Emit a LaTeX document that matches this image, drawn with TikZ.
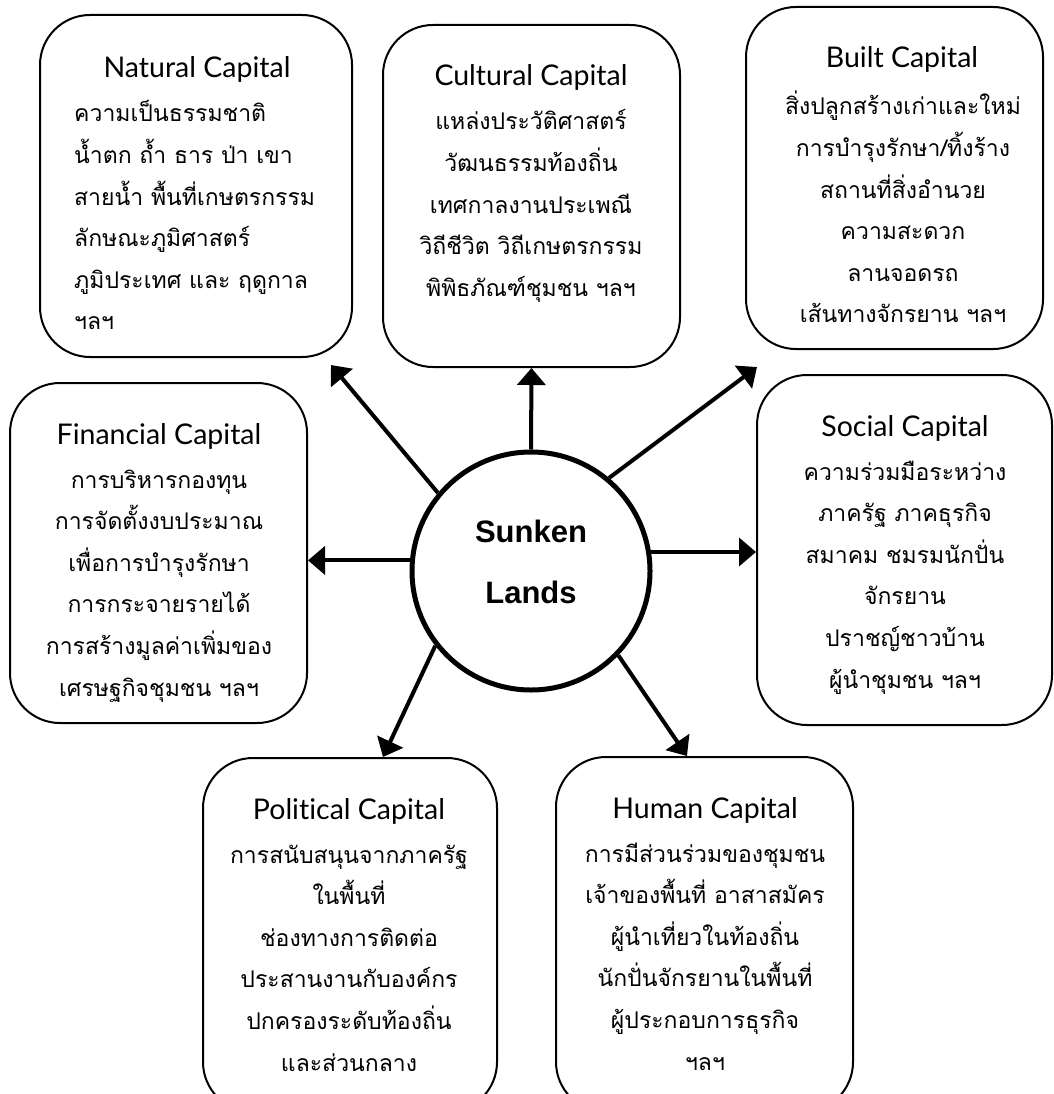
\documentclass[tikz,border=0pt]{standalone}
\usepackage{fontspec}
\usetikzlibrary{arrows.meta}
\newfontfamily\thaifont[Script=Thai]{Loma}
\newfontfamily\titlefont{Lato}[Ligatures=NoCommon]
\newfontfamily\hubfont{Liberation Sans}
\newcommand\bodyfont{\thaifont\fontsize{23}{41.6}\selectfont}
\newcommand\linesC[1]{\vtop{\baselineskip=41.6pt\lineskiplimit=-100pt\halign{\hfil##\hfil\cr #1\crcr}}}
\newcommand\linesL[1]{\vtop{\baselineskip=41.6pt\lineskiplimit=-100pt\halign{##\hfil\cr #1\crcr}}}
\tikzset{
  capbox/.style={draw, line width=2pt, rounded corners=50pt, inner sep=0pt},
  captitle/.style={anchor=base, inner sep=0pt, font=\titlefont\fontsize{28.5}{28.5}\selectfont},
  capbody/.style={anchor=base, inner sep=0pt, font=\bodyfont},
  spoke/.style={line width=4pt, -{Triangle[length=17pt,width=28pt]}},
}
\begin{document}
\begin{tikzpicture}[x=1pt,y=-1pt]
\clip (0,0) rectangle (1053,1094);
\fill[white] (0,0) rectangle (1053,1094);

% boxes
\node[capbox, minimum width=312pt, minimum height=342pt] (nat) at (196,186) {};
\node[capbox, minimum width=297pt, minimum height=342pt] (cul) at (531.5,196) {};
\node[capbox, minimum width=297pt, minimum height=342pt] (blt) at (894.5,178) {};
\node[capbox, minimum width=297pt, minimum height=340pt] (fin) at (158.5,553) {};
\node[capbox, minimum width=295pt, minimum height=350pt] (soc) at (904.5,550) {};
\node[capbox, minimum width=294pt, minimum height=354pt] (pol) at (350,935) {};
\node[capbox, minimum width=297pt, minimum height=355pt] (hum) at (704.5,934.5) {};

% hub
\node[draw, circle, line width=5pt, minimum size=238pt, inner sep=0pt] (hub) at (531,571) {};
\node[anchor=base, inner sep=0pt, font=\hubfont\bfseries\fontsize{31}{31}\selectfont] (hubA) at (531,542) {Sunken};
\node[anchor=base, inner sep=0pt, font=\hubfont\bfseries\fontsize{31}{31}\selectfont] (hubB) at (531,603) {Lands};

% titles
\node[captitle] (natT) at (197,78) {Natural Capital};
\node[captitle] (culT) at (531,86) {Cultural Capital};
\node[captitle] (bltT) at (902,68) {Built Capital};
\node[captitle] (finT) at (159,444) {Financial Capital};
\node[captitle] (socT) at (905,436) {Social Capital};
\node[captitle] (polT) at (349,819) {Political Capital};
\node[captitle] (humT) at (705,818) {Human Capital};

% bodies
\node[capbody, anchor=base west] (natB) at (74,122) {\linesL{%
ความเป็นธรรมชาติ\cr
น้ำตก ถ้ำ ธาร ป่า เขา\cr
สายน้ำ พื้นที่เกษตรกรรม\cr
ลักษณะภูมิศาสตร์\cr
ภูมิประเทศ และ ฤดูกาล\cr
ฯลฯ}};
\node[capbody] (culB) at (531,130) {\linesC{%
แหล่งประวัติศาสตร์\cr
วัฒนธรรมท้องถิ่น\cr
เทศกาลงานประเพณี\cr
วิถีชีวิต วิถีเกษตรกรรม\cr
พิพิธภัณฑ์ชุมชน ฯลฯ}};
\node[capbody] (bltB) at (903,115) {\linesC{%
สิ่งปลูกสร้างเก่าและใหม่\cr
การบำรุงรักษา/ทิ้งร้าง\cr
สถานที่สิ่งอำนวย\cr
ความสะดวก\cr
ลานจอดรถ\cr
เส้นทางจักรยาน ฯลฯ}};
\node[capbody] (finB) at (159,488) {\linesC{%
การบริหารกองทุน\cr
การจัดตั้งงบประมาณ\cr
เพื่อการบำรุงรักษา\cr
การกระจายรายได้\cr
การสร้างมูลค่าเพิ่มของ\cr
เศรษฐกิจชุมชน ฯลฯ}};
\node[capbody] (socB) at (905,480) {\linesC{%
ความร่วมมือระหว่าง\cr
ภาครัฐ ภาคธุรกิจ\cr
สมาคม ชมรมนักปั่น\cr
จักรยาน\cr
ปราชญ์ชาวบ้าน\cr
ผู้นำชุมชน ฯลฯ}};
\node[capbody] (polB) at (349,863) {\linesC{%
การสนับสนุนจากภาครัฐ\cr
ในพื้นที่\cr
ช่องทางการติดต่อ\cr
ประสานงานกับองค์กร\cr
ปกครองระดับท้องถิ่น\cr
และส่วนกลาง}};
\node[capbody] (humB) at (705,862) {\linesC{%
การมีส่วนร่วมของชุมชน\cr
เจ้าของพื้นที่ อาสาสมัคร\cr
ผู้นำเที่ยวในท้องถิ่น\cr
นักปั่นจักรยานในพื้นที่\cr
ผู้ประกอบการธุรกิจ\cr
ฯลฯ}};

% spokes
\draw[spoke] (hub.90) -- (cul.south);
\draw[spoke] (hub.140) -- ([shift={(-22pt,-7pt)}]nat.south east);
\draw[spoke] (hub.50) -- ([shift={(12pt,-17pt)}]blt.south west);
\draw[spoke] (hub.175) -- (hub.175 -| fin.east);
\draw[spoke] (hub.9) -- (hub.9 -| soc.west);
\draw[spoke] (hub.218) -- ([xshift=33pt]pol.north);
\draw[spoke] (hub.316) -- ([xshift=-17.5pt]hum.north);
\end{tikzpicture}
\end{document}
